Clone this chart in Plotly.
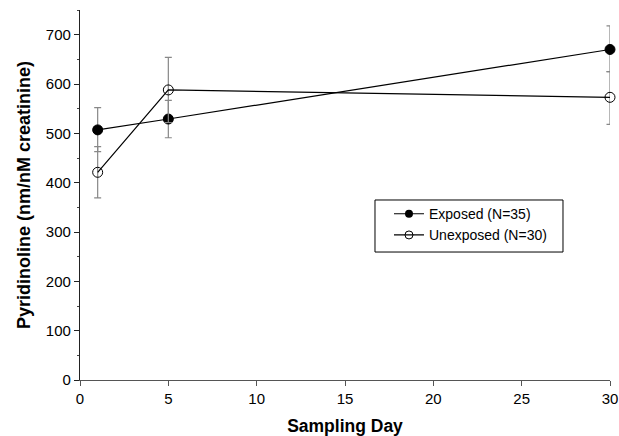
import plotly.graph_objects as go

days = [1, 5, 30]
exposed = [507, 529, 670]
exposed_plus = [45, 38, 48]
exposed_minus = [44, 38, 45]
unexposed = [421, 588, 573]
unexposed_plus = [52, 66, 52]
unexposed_minus = [52, 66, 55]
names = ["Exposed (N=35)", "Unexposed (N=30)"]

fig = go.Figure()
fig.add_trace(go.Scatter(
    x=days, y=exposed, mode="lines+markers", name=names[0], showlegend=False,
    line=dict(color="black", width=1.2),
    marker=dict(symbol="circle", size=10, color="black", line=dict(color="black", width=1)),
    error_y=dict(type="data", symmetric=False, array=exposed_plus, arrayminus=exposed_minus,
                 color="#888888", thickness=1.2, width=3.5),
    cliponaxis=False,
))
fig.add_trace(go.Scatter(
    x=days, y=unexposed, mode="lines+markers", name=names[1], showlegend=False,
    line=dict(color="black", width=1.2),
    marker=dict(symbol="circle-open", size=10, color="black", line=dict(color="black", width=1)),
    error_y=dict(type="data", symmetric=False, array=unexposed_plus, arrayminus=unexposed_minus,
                 color="#888888", thickness=1.2, width=3.5),
    cliponaxis=False,
))
# legend entries (small symbols, as in the reference legend)
fig.add_trace(go.Scatter(
    x=[None], y=[None], mode="lines+markers", name=names[0],
    line=dict(color="black", width=1.2),
    marker=dict(symbol="circle", size=8, color="black"),
))
fig.add_trace(go.Scatter(
    x=[None], y=[None], mode="lines+markers", name=names[1],
    line=dict(color="black", width=1.2),
    marker=dict(symbol="circle-open", size=8, color="black", line=dict(color="black", width=1)),
))

fig.add_shape(type="rect", xref="paper", yref="paper",
              x0=0.5566, x1=0.9113, y0=0.3459, y1=0.4865,
              line=dict(color="black", width=1), fillcolor="rgba(0,0,0,0)", layer="above")

fig.update_layout(
    width=619, height=436,
    margin=dict(l=80, r=9, t=10, b=56, autoexpand=False),
    paper_bgcolor="white", plot_bgcolor="white",
    font=dict(family="Liberation Sans, Arial", size=15, color="black"),
    showlegend=True,
    legend=dict(x=0.583, y=0.4915, xanchor="left", yanchor="top",
                borderwidth=0, bgcolor="rgba(0,0,0,0)",
                font=dict(size=14), tracegroupgap=0, itemwidth=30),
    xaxis=dict(range=[0, 30], tickvals=[0, 5, 10, 15, 20, 25, 30],
               showgrid=False, zeroline=False, showline=True, linecolor="#555555", linewidth=1,
               ticks="outside", ticklen=5, tickcolor="#555555", automargin=False,
               title=dict(text="<b>Sampling Day</b>", font=dict(size=17.5), standoff=14)),
    yaxis=dict(range=[0, 750], tickvals=[0, 100, 200, 300, 400, 500, 600, 700],
               showgrid=False, zeroline=False, showline=True, linecolor="#222222", linewidth=1.2,
               ticks="outside", ticklen=5, tickcolor="#222222", automargin=False,
               minor=dict(dtick=50, ticks="outside", ticklen=2, tickcolor="#444444"),
               title=dict(text="<b>Pyridinoline (nm/nM creatinine)</b>", font=dict(size=18), standoff=10)),
)

fig.write_html("out.html", config={"displayModeBar": False},
               post_script="document.body.style.margin='0';document.body.style.overflow='hidden';")
